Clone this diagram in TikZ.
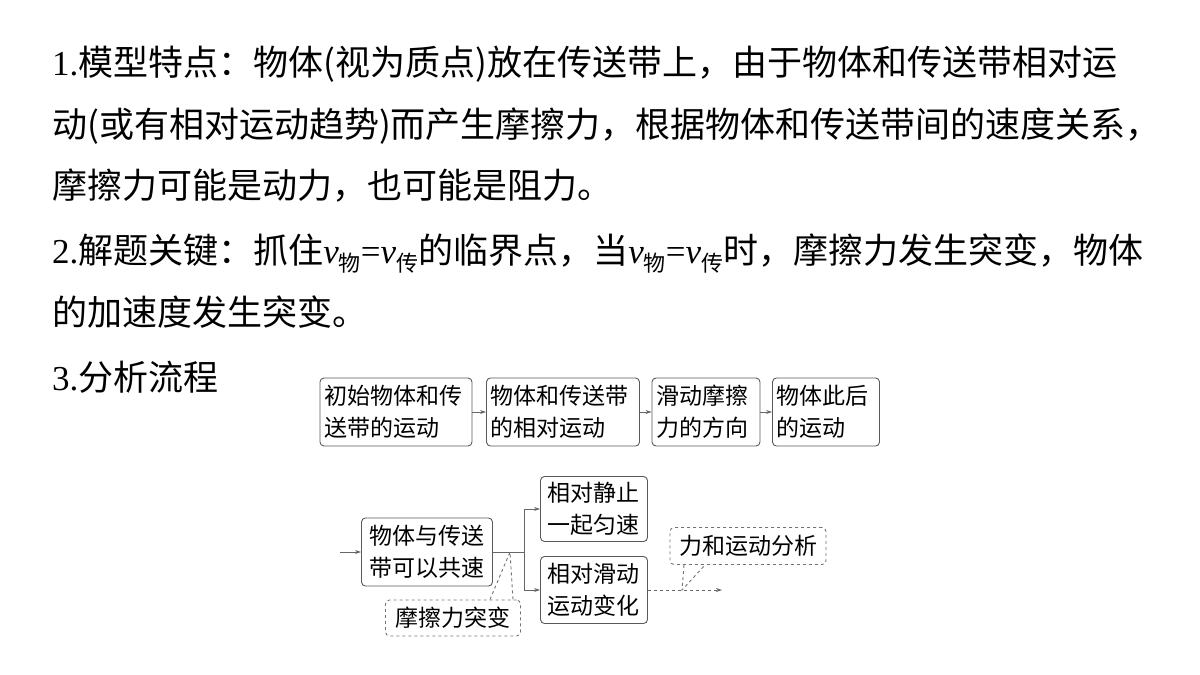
\documentclass[tikz,border=0pt]{standalone}
\usepackage{fontspec}
\setmainfont{Noto Sans CJK SC}
\newfontfamily\lat{Liberation Serif}
\usetikzlibrary{arrows.meta}
\newcommand{\vv}[1]{{\lat\itshape v}\raisebox{-0.25em}{\fontsize{22}{22}\selectfont #1}}
\begin{document}
\begin{tikzpicture}[x=1pt,y=-1pt,
  txt/.style={anchor=base west,inner sep=0,font=\fontsize{35}{35}\selectfont},
  bx/.style={draw=black!65,rounded corners=4pt,line width=0.9pt,align=left,inner sep=0,font=\fontsize{23}{32}\selectfont},
  dbx/.style={bx,dashed,draw=black!55},
  ar/.style={draw=black!60,line width=0.9pt,-{Stealth[length=6pt,width=4pt]}},
  ln/.style={draw=black!60,line width=0.9pt}]
\useasboundingbox (0,0) rectangle (1200,675);
\node[txt] (l1) at (52,75) {{\lat 1.}模型特点：物体({视为质点}){放在传送带上，由于物体和传送带相对运}};
\node[txt] (l2) at (52,137) {动(或有相对运动趋势)而产生摩擦力，根据物体和传送带间的速度关系，};
\node[txt] (l3) at (52,198) {摩擦力可能是动力，也可能是阻力。};
\node[txt] (l4) at (52,263) {{\lat 2.}解题关键：抓住\vv{物}{\lat =}\vv{传}的临界点，当\vv{物}{\lat =}\vv{传}时，摩擦力发生突变，物体};
\node[txt] (l5) at (52,325) {的加速度发生突变。};
\node[txt] (l6) at (52,390) {{\lat 3.}分析流程};
% top row
\node[bx,minimum width=152pt,minimum height=68pt,text width=144pt] (t1) at (396,412) {初始物体和传\\送带的运动};
\node[bx,minimum width=153pt,minimum height=68pt,text width=145pt] (t2) at (563,412) {物体和传送带\\的相对运动};
\node[bx,minimum width=108pt,minimum height=68pt,text width=100pt] (t3) at (706,412) {滑动摩擦\\力的方向};
\node[bx,minimum width=107pt,minimum height=68pt,text width=99pt] (t4) at (826,412) {物体此后\\的运动};
\draw[ar] (t1) -- (t2);
\draw[ar] (t2) -- (t3);
\draw[ar] (t3) -- (t4);
% bottom
\node[bx,minimum width=131pt,minimum height=68pt,text width=116pt] (a) at (427,552) {物体与传送\\带可以共速};
\node[bx,minimum width=107pt,minimum height=65pt,text width=94pt] (b) at (594,509) {相对静止\\一起匀速};
\node[bx,minimum width=107pt,minimum height=67pt,text width=94pt] (c) at (594,590) {相对滑动\\运动变化};
\node[dbx,minimum width=135pt,minimum height=36pt,align=center] (f) at (453,618) {摩擦力突变};
\node[dbx,minimum width=156pt,minimum height=37pt,align=center] (g) at (748,546) {力和运动分析};
\coordinate (in) at (340,552);
\coordinate (j) at (524,552);
\coordinate (jp) at (510,552);
\coordinate (out) at (722,590);
\coordinate (op) at (682,590);
\draw[ar] (in) -- (a);
\draw[ln] (a.east) -- (j);
\draw[ar] (j) |- (b.west);
\draw[ar] (j) |- (c.west);
\draw[ar,dashed] (c.east) -- (out);
\draw[ln,dashed,draw=black!55] ([xshift=37pt]f.north) -- (jp) -- ([xshift=60pt]f.north);
\draw[ln,dashed,draw=black!55] ([xshift=-64pt]g.south) -- (op) -- ([xshift=-43pt]g.south);
\end{tikzpicture}
\end{document}
